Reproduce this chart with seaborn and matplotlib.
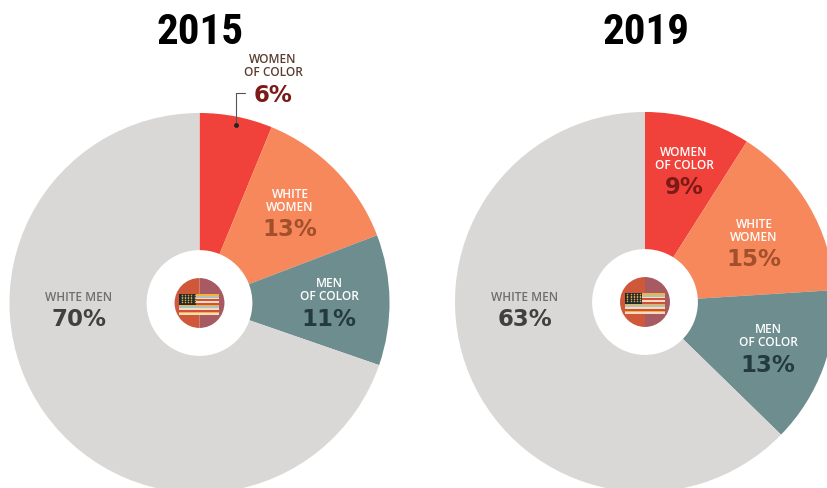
import matplotlib
matplotlib.use("Agg")
import matplotlib.pyplot as plt
import seaborn as sns

sns.set_theme(style="white")
plt.rcParams["font.family"] = ["DejaVu Sans"]
plt.rcParams["patch.linewidth"] = 0

W, H = 828, 488

years = ["2015", "2019"]
groups = ["WOMEN\nOF COLOR", "WHITE\nWOMEN", "MEN\nOF COLOR", "WHITE MEN"]
shares_2015 = [6.2, 13.0, 11.1, 69.7]
shares_2019 = [9.0, 15.0, 13.3, 62.7]
slice_colors = sns.color_palette(["#f0423a", "#f6885b", "#6e8d8f", "#d9d8d6"])
label_colors = ["white", "white", "white", "#6f6f6f"]
pct_colors = ["#7c1a17", "#a24f2b", "#243a3e", "#404040"]

# bottom stripe first
flag_stripes = ["#f5dcc0", "#f6b13a", "#d0503c", "#f5dcc0", "#a9c4bf", "#f6b13a",
                "#d0503c", "#f5dcc0", "#d0503c", "#f5dcc0", "#a9c4bf", "#f6b13a"]

fig = plt.figure(figsize=(W / 100, H / 100), dpi=100)


def pie_axes(cx, cy, r):
    ax = fig.add_axes([(cx - r) / W, 1 - (cy + r) / H, 2 * r / W, 2 * r / H])
    ax.axis("off")
    return ax


def circle(cx, cy, r, values, colors):
    ax = pie_axes(cx, cy, r)
    ax.pie(values, colors=colors, startangle=90, counterclock=False, radius=1,
           wedgeprops={"edgecolor": "none", "linewidth": 0})
    ax.set_xlim(-1.002, 1.002)
    ax.set_ylim(-1.002, 1.002)


def draw_pie(cx, cy, values):
    circle(cx, cy, 190.4, values, slice_colors)
    circle(cx, cy, 53, [1], ["white"])
    circle(cx, cy, 25, [1, 1], ["#a85a62", "#d0583a"])

    # little flag on the badge
    flag = fig.add_axes([(cx - 20) / W, 1 - (cy + 12) / H, 40 / W, 21 / H])
    rows = list(range(len(flag_stripes)))
    flag.barh(rows, [1] * len(rows), height=1, color=flag_stripes, linewidth=0)
    flag.barh(rows[-6:], [0.42] * 6, height=1, color="#1f2d30", linewidth=0)
    for y in rows[-5:]:
        flag.scatter([0.06, 0.14, 0.22, 0.30, 0.38], [y] * 5, s=1.2, color="#e8a13a", linewidths=0)
    flag.set_xlim(0, 1)
    flag.set_ylim(-0.5, len(rows) - 0.5)
    flag.axis("off")


draw_pie(199.5, 303, shares_2015)
draw_pie(645, 302, shares_2019)

over = fig.add_axes([0, 0, 1, 1])
over.set_xlim(0, W)
over.set_ylim(H, 0)
over.axis("off")
over.patch.set_alpha(0)

for year, x in zip(years, [200, 646]):
    over.text(x, 33, year, ha="center", va="center", fontsize=31, fontweight="bold",
              color="black", family=["Roboto Condensed", "DejaVu Sans"])


def label(x, y, i, share, lab_color=None):
    n_lines = groups[i].count("\n") + 1
    over.text(x, y, groups[i], ha="center", va="top", fontsize=8.6, fontweight=600,
              color=lab_color or label_colors[i], linespacing=1.0,
              family=["Open Sans", "DejaVu Sans"])
    over.text(x, y + 13.5 * n_lines + 3.5, f"{round(share)}%", ha="center", va="top", fontsize=16.5,
              fontweight="bold", color=pct_colors[i])


label(273, 53, 0, shares_2015[0], "#5a3d30")
label(290, 188, 1, shares_2015[1])
label(329, 277, 2, shares_2015[2])
label(79, 291, 3, shares_2015[3])

label(684, 146, 0, shares_2019[0])
label(754, 218, 1, shares_2019[1])
label(768, 323, 2, shares_2019[2])
label(525, 291, 3, shares_2019[3])

over.plot([245, 236, 236], [93, 93, 125], color="#555555", lw=0.8)
over.scatter([236], [125], s=12, color="#222222", zorder=3)

fig.savefig("out.png", dpi=100)
